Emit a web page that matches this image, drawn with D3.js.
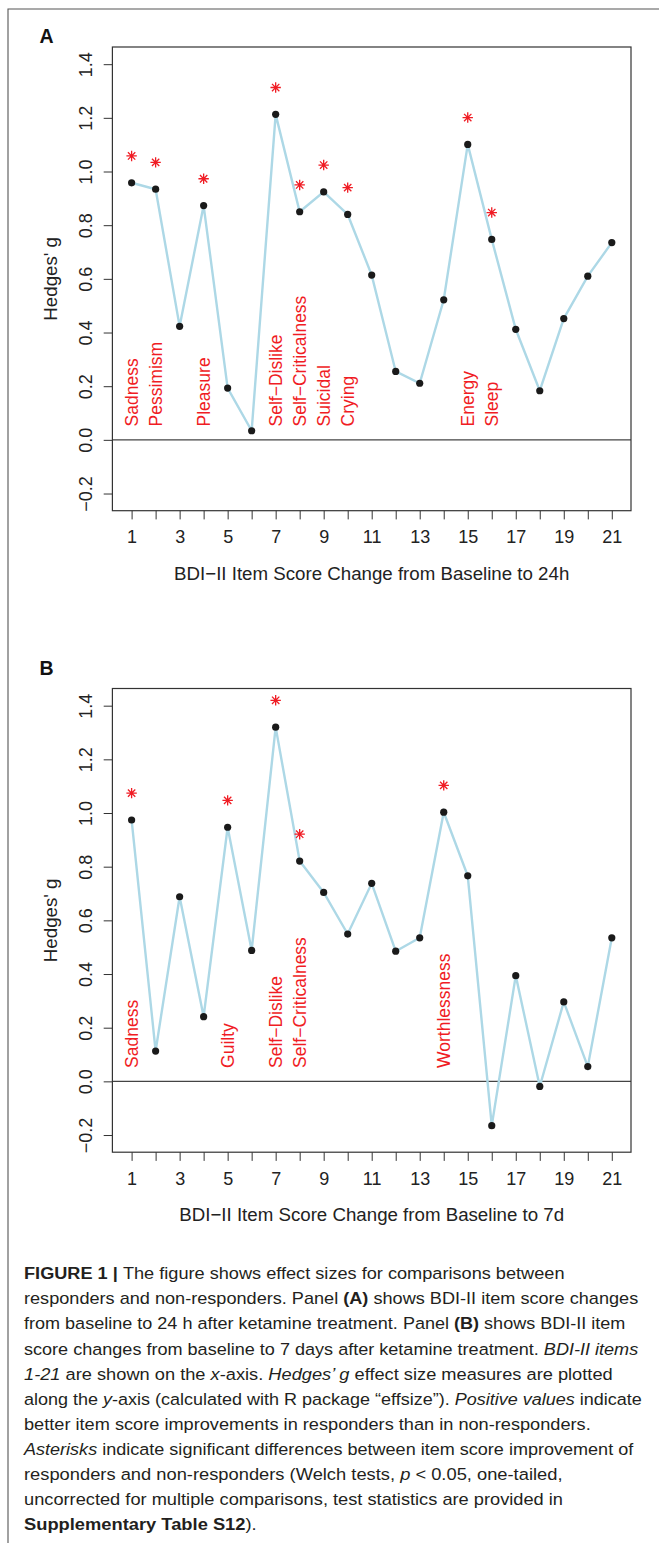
<!DOCTYPE html>
<html>
<head>
<meta charset="utf-8">
<script src="https://cdn.jsdelivr.net/npm/d3@7"></script>
<style>
  html, body { margin: 0; padding: 0; background: #fff; }
  svg { display: block; }
  text { font-family: "Liberation Sans", Arial, Helvetica, sans-serif; }
</style>
</head>
<body>
<svg id="fig" width="659" height="1543"></svg>
<script>
// ---------------- DATA ----------------
const items = [1,2,3,4,5,6,7,8,9,10,11,12,13,14,15,16,17,18,19,20,21];
const xTickLabels = [1,3,5,7,9,11,13,15,17,19,21];
const yTicks = [-0.2, 0, 0.2, 0.4, 0.6, 0.8, 1.0, 1.2, 1.4];
const yTickLabels = ["\u22120.2","0.0","0.2","0.4","0.6","0.8","1.0","1.2","1.4"];

// Panel A: baseline to 24h
const hedgesA = [0.958, 0.934, 0.423, 0.873, 0.193, 0.034, 1.213, 0.850, 0.924, 0.840,
                 0.614, 0.255, 0.211, 0.522, 1.101, 0.747, 0.412, 0.183, 0.452, 0.610, 0.735];
const sigItemsA = [1, 2, 4, 7, 8, 9, 10, 15, 16];
const sigLabelsA = ["Sadness","Pessimism","Pleasure","Self\u2212Dislike","Self\u2212Criticalness",
                    "Suicidal","Crying","Energy","Sleep"];

// Panel B: baseline to 7d
const hedgesB = [0.974, 0.113, 0.688, 0.241, 0.947, 0.488, 1.320, 0.821, 0.704, 0.549,
                 0.738, 0.485, 0.535, 1.003, 0.766, -0.165, 0.394, -0.019, 0.296, 0.055, 0.535];
const sigItemsB = [1, 5, 7, 8, 14];
const sigLabelsB = ["Sadness","Guilty","Self\u2212Dislike","Self\u2212Criticalness","Worthlessness"];

const asteriskOffset = 0.1;
const labelBaseValue = 0.05;

const panels = [
  { letter: "A", values: hedgesA, sig: sigItemsA, labels: sigLabelsA,
    xTitle: "BDI\u2212II Item Score Change from Baseline to 24h", dy: 0 },
  { letter: "B", values: hedgesB, sig: sigItemsB, labels: sigLabelsB,
    xTitle: "BDI\u2212II Item Score Change from Baseline to 7d", dy: 641.5 }
];

// Caption (segments: [text, style])
const captionLines = [
  [["FIGURE 1 | ","b"],["The figure shows effect sizes for comparisons between",""]],
  [["responders and non-responders. Panel ",""],["(A)","b"],[" shows BDI-II item score changes",""]],
  [["from baseline to 24 h after ketamine treatment. Panel ",""],["(B)","b"],[" shows BDI-II item",""]],
  [["score changes from baseline to 7 days after ketamine treatment. ",""],["BDI-II items","i"]],
  [["1-21","i"],[" are shown on the ",""],["x","i"],["-axis. ",""],["Hedges\u2019 g","i"],[" effect size measures are plotted",""]],
  [["along the ",""],["y","i"],["-axis (calculated with R package \u201Ceffsize\u201D). ",""],["Positive values","i"],[" indicate",""]],
  [["better item score improvements in responders than in non-responders.",""]],
  [["Asterisks","i"],[" indicate significant differences between item score improvement of",""]],
  [["responders and non-responders (Welch tests, ",""],["p","i"],[" < 0.05, one-tailed,",""]],
  [["uncorrected for multiple comparisons, test statistics are provided in",""]],
  [["Supplementary Table S12","b"],[").",""]]
];

// ---------------- LAYOUT ----------------
const box = { left: 112.4, right: 631, top: 47, bottom: 510.7 };
const captionX = 24, captionBase = 1279.3, captionStep = 25.07;
const captionRight = [565, 638.5, 626, 638.5, 613, 642, 591, 634, 563, 563, 257];

const svg = d3.select("#fig");

// outer frame
svg.append("path")
  .attr("d", "M8,1543 V9 H659")
  .attr("fill", "none").attr("stroke", "#555").attr("stroke-width", 1.1);

const x = d3.scaleLinear().domain([0.2, 21.8]).range([box.left, box.right]);
const y = d3.scaleLinear().domain([-0.264, 1.464]).range([box.bottom, box.top]);

function asteriskPath(r) {
  const d = r * Math.SQRT1_2;
  return `M${-r},0H${r}M0,${-r}V${r}M${-d},${-d}L${d},${d}M${-d},${d}L${d},${-d}`;
}

panels.forEach(p => {
  const g = svg.append("g").attr("transform", `translate(0,${p.dy})`);

  // panel letter
  g.append("text").attr("x", 39.5).attr("y", p.letter === "A" ? 42.6 : 33.5)
    .attr("font-size", 19.5).attr("font-weight", "bold").attr("fill", "#111")
    .text(p.letter);

  // zero line
  g.append("line")
    .attr("x1", box.left).attr("x2", box.right)
    .attr("y1", y(0)).attr("y2", y(0))
    .attr("stroke", "#444").attr("stroke-width", 1.2);

  // x axis
  const xAxis = d3.axisBottom(x).tickValues(items).tickSize(8.7)
    .tickFormat(d => xTickLabels.includes(d) ? String(d) : "");
  const gx = g.append("g").attr("transform", `translate(0,${box.bottom})`).call(xAxis);
  gx.select(".domain").remove();
  gx.selectAll(".tick line").attr("stroke", "#333").attr("stroke-width", 1);
  gx.selectAll(".tick text").attr("y", 32.8).attr("dy", null)
    .attr("font-size", 18).attr("fill", "#222");

  // y axis
  const yAxis = d3.axisLeft(y).tickValues(yTicks).tickSize(8.7)
    .tickFormat((d, i) => yTickLabels[i]);
  const gy = g.append("g").attr("transform", `translate(${box.left},0)`).call(yAxis);
  gy.select(".domain").remove();
  gy.selectAll(".tick line").attr("stroke", "#333").attr("stroke-width", 1);
  gy.selectAll(".tick text")
    .attr("transform", "rotate(-90)")
    .attr("x", 0).attr("y", -20.8).attr("dy", null)
    .attr("text-anchor", "middle")
    .attr("font-size", 18).attr("fill", "#222");

  // box
  g.append("rect")
    .attr("x", box.left).attr("y", box.top)
    .attr("width", box.right - box.left).attr("height", box.bottom - box.top)
    .attr("fill", "none").attr("stroke", "#333").attr("stroke-width", 1.2);

  // axis titles
  g.append("text")
    .attr("x", (box.left + box.right) / 2).attr("y", 579.5)
    .attr("text-anchor", "middle").attr("font-size", 18.7).attr("fill", "#222")
    .text(p.xTitle);
  g.append("text")
    .attr("transform", `translate(56.5,${(box.top + box.bottom) / 2}) rotate(-90)`)
    .attr("text-anchor", "middle").attr("font-size", 18.7).attr("fill", "#222")
    .text("Hedges' g");

  // red item labels
  g.selectAll(".lab").data(p.sig).enter().append("text")
    .attr("transform", d => `translate(${x(d)},${y(labelBaseValue)}) rotate(-90)`)
    .attr("text-anchor", "start").attr("dominant-baseline", "central")
    .attr("font-size", 17.5).attr("fill", "#f01c24")
    .text((d, i) => p.labels[i]);

  // line
  const line = d3.line().x((d, i) => x(items[i])).y(d => y(d));
  g.append("path").datum(p.values)
    .attr("d", line).attr("fill", "none")
    .attr("stroke", "#add8e6").attr("stroke-width", 2.4);

  // points
  g.selectAll(".pt").data(p.values).enter().append("circle")
    .attr("cx", (d, i) => x(items[i])).attr("cy", d => y(d))
    .attr("r", 3.6).attr("fill", "#1a1a1a");

  // asterisks
  g.selectAll(".ast").data(p.sig).enter().append("path")
    .attr("transform", d => `translate(${x(d)},${y(p.values[d - 1] + asteriskOffset)})`)
    .attr("d", asteriskPath(5.2))
    .attr("fill", "none").attr("stroke", "#f01c24").attr("stroke-width", 1.3);
});

// caption
captionLines.forEach((segs, k) => {
  const t = svg.append("text")
    .attr("x", 0).attr("y", 0)
    .attr("font-size", 17).attr("fill", "#231f20")
    .style("white-space", "pre");
  segs.forEach(([txt, st]) => {
    t.append("tspan").text(txt)
      .attr("font-weight", st === "b" ? "bold" : null)
      .attr("font-style", st === "i" ? "italic" : null);
  });
  const w = t.node().getComputedTextLength();
  const s = (captionRight[k] - captionX) / w;
  t.attr("transform", `translate(${captionX},${captionBase + captionStep * k}) scale(${s},1)`);
});
</script>
</body>
</html>
